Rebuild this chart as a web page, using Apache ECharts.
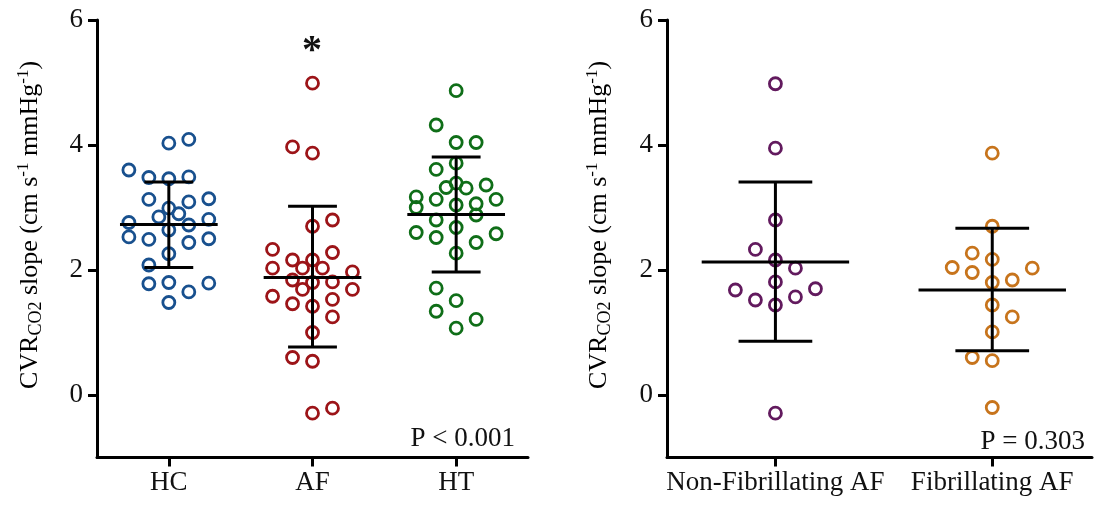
<!DOCTYPE html>
<html>
<head>
<meta charset="utf-8">
<script src="https://cdn.jsdelivr.net/npm/echarts@6/dist/echarts.min.js"></script>
<style>
  html, body { margin: 0; padding: 0; background: #fff; }
  #chart { width: 1095px; height: 505px; }
</style>
</head>
<body>
<div id="chart"></div>
<script>
// categories
var leftCats = ['HC', 'AF', 'HT'];
var rightCats = ['Non-Fibrillating AF', 'Fibrillating AF'];
var yTicks = [0, 2, 4, 6];

// points: [jitter slot, value]
var hcPoints = [[0,4.03],[1,4.09],[-2,3.60],[-1,3.48],[0,3.46],[1,3.49],[-1,3.13],[1,3.09],[2,3.14],
  [0,2.99],[-0.5,2.85],[0.5,2.90],[-2,2.76],[1,2.72],[2,2.81],[0,2.64],[-2,2.53],[-1,2.49],[1,2.44],
  [2,2.50],[0,2.26],[-1,2.08],[-1,1.78],[0,1.80],[1,1.65],[2,1.79],[0,1.48]];
var afPoints = [[0,4.99],[-1,3.97],[0,3.87],[1,2.80],[0,2.70],[-2,2.33],[1,2.28],[-1,2.16],[0,2.16],
  [-2,2.03],[-0.5,2.03],[0.5,2.03],[2,1.97],[-1,1.84],[0,1.80],[1,1.81],[-0.5,1.69],[2,1.69],[-2,1.58],
  [-1,1.46],[0,1.42],[1,1.53],[1,1.25],[0,1.00],[-1,0.60],[0,0.54],[0,-0.29],[1,-0.21]];
var htPoints = [[0,4.87],[-1,4.32],[0,4.04],[1,4.04],[-1,3.61],[0,3.71],[0,3.39],[-0.5,3.32],[0.5,3.31],
  [1.5,3.36],[-2,3.17],[-1,3.13],[2,3.13],[-2,3.00],[0,3.04],[1,3.06],[1,2.88],[-1,2.80],[0,2.68],
  [-2,2.60],[-1,2.52],[2,2.58],[1,2.44],[0,2.27],[-1,1.71],[0,1.51],[-1,1.34],[1,1.21],[0,1.07]];
var nonFibPoints = [[0,4.98],[0,3.95],[0,2.80],[-1,2.33],[0,2.16],[1,2.03],[0,1.81],[-2,1.68],[2,1.70],
  [-1,1.52],[1,1.57],[0,1.44],[0,-0.29]];
var fibPoints = [[0,3.87],[0,2.70],[-1,2.27],[0,2.17],[-2,2.04],[-1,1.96],[2,2.03],[0,1.80],[1,1.84],
  [0,1.44],[1,1.25],[0,1.01],[-1,0.60],[0,0.55],[0,-0.20]];

// mean, lower SD, upper SD
var leftStats = [[2.73, 2.04, 3.41], [1.88, 0.77, 3.02], [2.89, 1.97, 3.81]];
var rightStats = [[2.13, 0.86, 3.41], [1.68, 0.71, 2.67]];

var FONT = '"Liberation Serif", "Times New Roman", serif';
var chart = echarts.init(document.getElementById('chart'));

function jitter(points, cat, step) {
  return points.map(function (p) { return [cat + p[0] * step, p[1]]; });
}

function scatter(points, cat, step, color, axis) {
  return {
    type: 'scatter', xAxisIndex: axis, yAxisIndex: axis,
    data: jitter(points, cat, step),
    symbol: 'circle', symbolSize: 12,
    itemStyle: { color: 'rgba(0,0,0,0)', borderColor: color, borderWidth: 2.8, opacity: 1 },
    z: 2, silent: true
  };
}

function bars(stats, axis) {
  return {
    type: 'custom', xAxisIndex: axis, yAxisIndex: axis, z: 5, silent: true,
    data: stats.map(function (s, i) { return [i + 1, s[0], s[1], s[2]]; }),
    renderItem: function (params, api) {
      var x = api.value(0);
      var m = api.coord([x - 0.34, api.value(1)]), m2 = api.coord([x + 0.34, api.value(1)]);
      var lo = api.coord([x, api.value(2)]), hi = api.coord([x, api.value(3)]);
      var loL = api.coord([x - 0.17, api.value(2)]), loR = api.coord([x + 0.17, api.value(2)]);
      var hiL = api.coord([x - 0.17, api.value(3)]), hiR = api.coord([x + 0.17, api.value(3)]);
      var st = { stroke: '#000', lineWidth: 3 };
      return {
        type: 'group', children: [
          { type: 'line', shape: { x1: m[0], y1: m[1], x2: m2[0], y2: m2[1] }, style: st },
          { type: 'line', shape: { x1: lo[0], y1: lo[1], x2: hi[0], y2: hi[1] }, style: st },
          { type: 'line', shape: { x1: loL[0], y1: loL[1], x2: loR[0], y2: loR[1] }, style: st },
          { type: 'line', shape: { x1: hiL[0], y1: hiL[1], x2: hiR[0], y2: hiR[1] }, style: st }
        ]
      };
    }
  };
}

function xAxis(grid, max, cats) {
  var vals = cats.map(function (c, i) { return i + 1; });
  return {
    type: 'value', gridIndex: grid, min: 0.5, max: max,
    splitLine: { show: false },
    axisLine: { show: true, onZero: false, lineStyle: { color: '#000', width: 3 } },
    axisTick: { show: true, length: 9, customValues: vals, lineStyle: { color: '#000', width: 3 } },
    axisLabel: {
      customValues: vals, margin: 12, color: '#111', fontSize: 27, fontFamily: FONT,
      formatter: function (v) { return cats[Math.round(v) - 1]; }
    }
  };
}

function yAxis(grid) {
  return {
    type: 'value', gridIndex: grid, min: -1, max: 6,
    splitLine: { show: false },
    axisLine: { show: true, onZero: false, lineStyle: { color: '#000', width: 3 } },
    axisTick: { show: true, length: 9, customValues: yTicks, lineStyle: { color: '#000', width: 3 } },
    axisLabel: { customValues: yTicks, margin: 14, color: '#111', fontSize: 27, fontFamily: FONT }
  };
}

var yLabel = '{a|CVR}{sub|CO2}{a| slope (cm s}{sup|-1}{a| mmHg}{sup|-1}{a|)}';
var yRich = {
  a: { fontSize: 26, fontFamily: FONT, color: '#111', lineHeight: 30 },
  sub: { fontSize: 18, fontFamily: FONT, color: '#111', lineHeight: 18, verticalAlign: 'bottom' },
  sup: { fontSize: 17, fontFamily: FONT, color: '#111', lineHeight: 17, verticalAlign: 'top' }
};

function textEl(x, y, text, align, size) {
  return { type: 'text', x: x, y: y, silent: true,
    style: { text: text, fill: '#111', fontSize: size || 27, fontFamily: FONT, align: align, verticalAlign: 'middle' } };
}

chart.setOption({
  animation: false,
  backgroundColor: '#fff',
  grid: [
    { left: 97, top: 20, width: 431, height: 437.5 },
    { left: 667, top: 20, width: 425, height: 437.5 }
  ],
  xAxis: [xAxis(0, 3.5, leftCats), xAxis(1, 2.46, rightCats)],
  yAxis: [yAxis(0), yAxis(1)],
  series: [
    scatter(hcPoints, 1, 0.139, '#18508e', 0),
    scatter(afPoints, 2, 0.139, '#9c1418', 0),
    scatter(htPoints, 3, 0.139, '#0f6e18', 0),
    scatter(nonFibPoints, 1, 0.0923, '#621a5e', 1),
    scatter(fibPoints, 2, 0.0923, '#c7741c', 1),
    bars(leftStats, 0),
    bars(rightStats, 1)
  ],
  graphic: [
    { type: 'text', x: 30, y: 225, rotation: Math.PI / 2, silent: true,
      style: { text: yLabel, rich: yRich, align: 'center', verticalAlign: 'middle' } },
    { type: 'text', x: 599, y: 225, rotation: Math.PI / 2, silent: true,
      style: { text: yLabel, rich: yRich, align: 'center', verticalAlign: 'middle' } },
    textEl(515, 439, 'P < 0.001', 'right'),
    textEl(1085, 442, 'P = 0.303', 'right'),
    { type: 'text', x: 312, y: 52, silent: true,
      style: { text: '*', fill: '#111', fontSize: 40, fontWeight: 'bold', fontFamily: FONT, align: 'center', verticalAlign: 'middle' } }
  ]
});
</script>
</body>
</html>
